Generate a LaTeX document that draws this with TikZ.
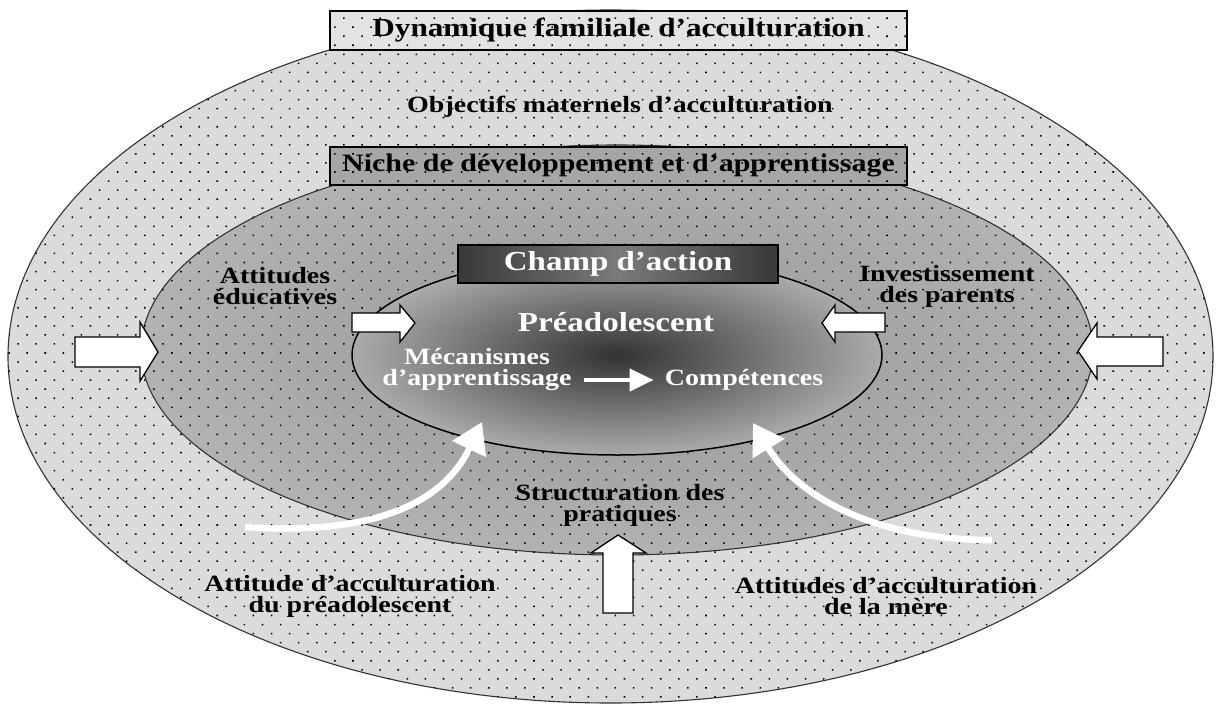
\documentclass[tikz,border=0pt]{standalone}
\usepackage{fontspec}
\setmainfont{Liberation Serif}[FakeStretch=1.2]
\usetikzlibrary{positioning,shapes.geometric,arrows.meta,patterns.meta}

\begin{document}
\begin{tikzpicture}[x=1pt,y=-1pt,
	lab/.style={font=\bfseries\fontsize{23.3}{21}\selectfont, align=center, inner sep=0pt},
	wlab/.style={lab, text=white},
	dotfill/.style={postaction={pattern={Dots[distance=12.8pt,angle=45,radius=1.1pt]}, pattern color=black}},
	ring/.style={ellipse, draw=black!80, line width=1.1pt, inner sep=0pt},
	band/.style={rectangle, draw, line width=1.3pt, inner sep=0pt, font=\bfseries\fontsize{25}{25}\selectfont},
	push/.style={draw, line width=1.3pt, fill=white, line join=miter},
	flow/.style={white, line width=6.5pt, -{Triangle[length=30pt,width=36pt]}}]
	\useasboundingbox (0,0) rectangle (1217,706);

	\node[ring, fill=black!14, dotfill, minimum width=1205, minimum height=693] (famille) at (610.5,356.5) {};
	\node[band, fill=black!11, dotfill, minimum width=577, minimum height=39, font=\bfseries\fontsize{26}{26}\selectfont] (dynamique) at (618.5,30.5) {Dynamique familiale d’acculturation};
	\node[lab] (objectifs) at (620,107) {Objectifs maternels d’acculturation};

	\node[ring, inner color=black!42, outer color=black!30, dotfill, minimum width=952, minimum height=410] (niche) at (617,350) {};
	\node[band, fill=black!35, dotfill, minimum width=577, minimum height=38] (nichelab) at (618.5,166) {Niche de développement et d’apprentissage};

	\node[ring, draw=black, line width=1.5pt, inner color=black!80, outer color=black!33, minimum width=530, minimum height=200] (preado) at (617,355) {};
	\node[band, left color=black!78, right color=black!78, middle color=black!52, minimum width=320, minimum height=38, text=white, font=\bfseries\fontsize{27.5}{27.5}\selectfont] (champ) at (618,264) {Champ d’action};

	\node[wlab, font=\bfseries\fontsize{27.5}{27.5}\selectfont] (preadolab) at (616,322) {Préadolescent};
	\node[wlab] (mecanismes) at (477,369) {Mécanismes\\d’apprentissage};
	\node[wlab] (competences) at (744,380) {Compétences};
	\draw[white, line width=4pt, -{Triangle[length=24pt,width=22pt]}] ([xshift=12pt]mecanismes.east |- competences.west) -- ([xshift=-11pt]competences.west);

	\node[lab] (educatives) at (275,286) {Attitudes\\éducatives};
	\node[lab] (investissement) at (947,286) {Investissement\\des parents};
	\node[lab] (structuration) at (620,505) {Structuration des\\pratiques};
	\node[lab] (attpreado) at (350,596) {Attitude d’acculturation\\du préadolescent};
	\node[lab] (attmere) at (886,596) {Attitudes d’acculturation\\de la mère};

	\draw[push] (75,337) -- (140,337) -- (140,322) -- (158,352) -- (140,381) -- (140,367) -- (75,367) -- cycle;
	\draw[push] (1163,337) -- (1097,337) -- (1097,323) -- (1078,351) -- (1097,379) -- (1097,366) -- (1163,366) -- cycle;
	\draw[push] (352,313) -- (400,313) -- (400,305) -- (415,323) -- (400,342) -- (400,332) -- (352,332) -- cycle;
	\draw[push] (885,313) -- (835,313) -- (835,305) -- (822,323) -- (835,342) -- (835,332) -- (885,332) -- cycle;
	\draw[push] (603,613) -- (603,553) -- (591,553) -- (618,535) -- (646,553) -- (633,553) -- (633,613) -- cycle;

	\coordinate (fromado) at (245,527);
	\coordinate (toado) at (482,422);
	\coordinate (frommere) at (992,540);
	\coordinate (tomere) at (753,423);
	\draw[flow] (fromado) .. controls (360,535) and (440,510) .. (toado);
	\draw[flow] (frommere) .. controls (880,540) and (800,500) .. (tomere);
\end{tikzpicture}
\end{document}
